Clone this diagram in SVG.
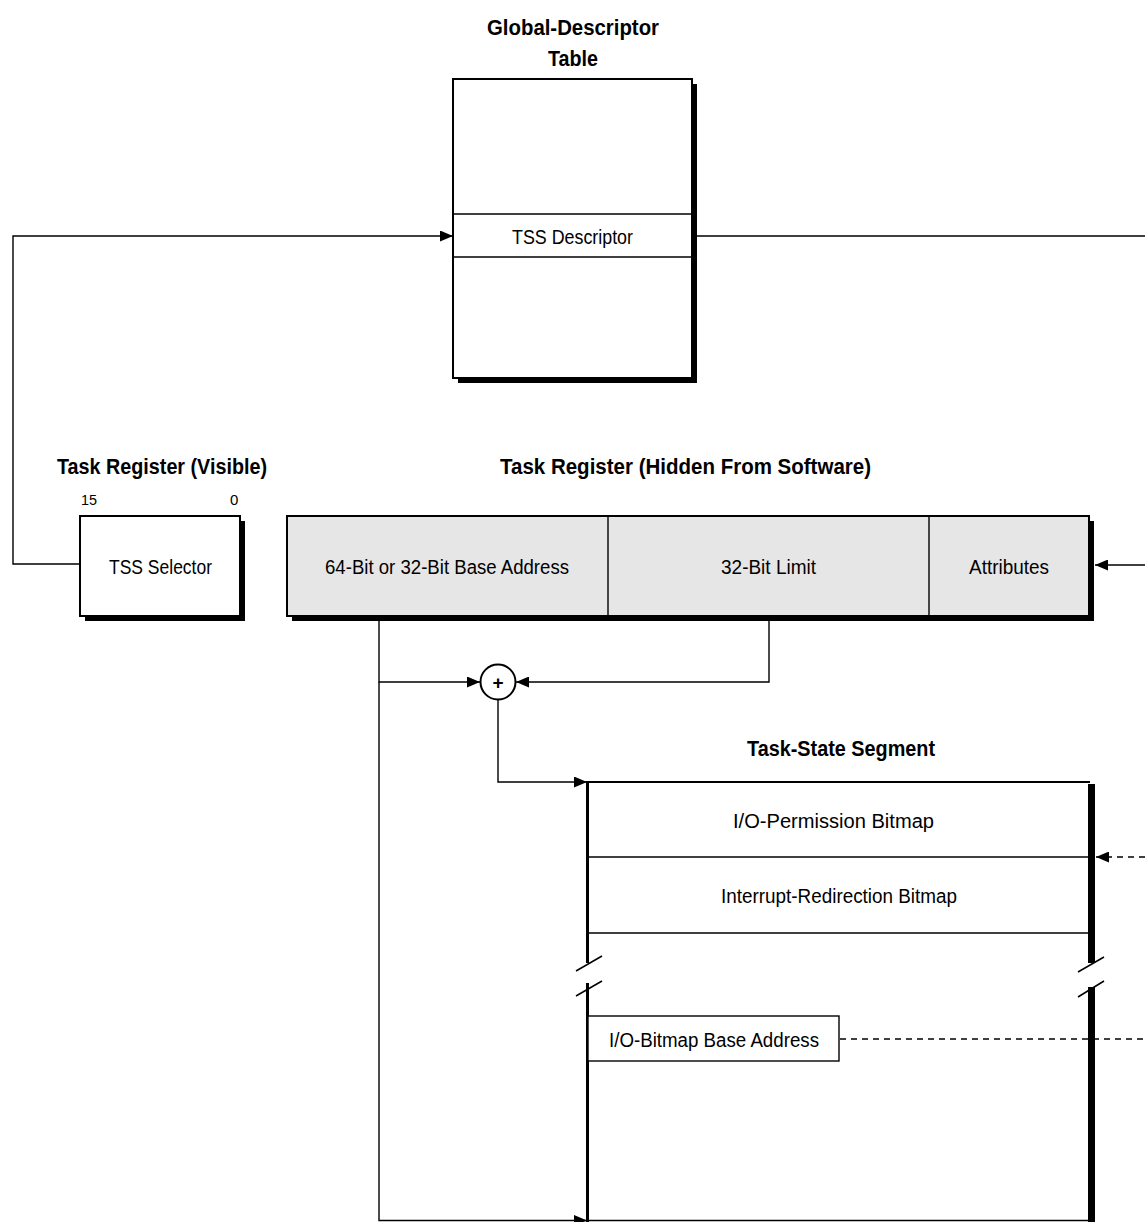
<svg xmlns="http://www.w3.org/2000/svg" width="1145" height="1222" viewBox="0 0 1145 1222">
<style>
text{font-family:"Liberation Sans",Arial,sans-serif;fill:#000}
.t{font-size:22px;font-weight:bold}
.n{font-size:20px}
.s{font-size:15px}
.ln{fill:none;stroke:#000;stroke-width:1.4}
.dl{fill:none;stroke:#000;stroke-width:1.4;stroke-dasharray:6 5}
.bx{fill:#fff;stroke:#000;stroke-width:2}
.gr{fill:#e6e6e6;stroke:#000;stroke-width:2}
.div{stroke:#000;stroke-width:1.4}
</style>
<defs>
<marker id="ah" markerUnits="userSpaceOnUse" markerWidth="13" markerHeight="11" refX="13" refY="5.5" orient="auto">
<path d="M0,0 L13,5.5 L0,11 z" fill="#000"/>
</marker>
</defs>
<rect width="1145" height="1222" fill="#fff"/>

<g id="gdt">
<text class="t" x="487" y="35" textLength="172" lengthAdjust="spacingAndGlyphs">Global-Descriptor</text>
<text class="t" x="548" y="66" textLength="50" lengthAdjust="spacingAndGlyphs">Table</text>
<rect x="458" y="84" width="239" height="299" fill="#000"/>
<rect class="bx" x="453" y="79" width="239" height="299"/>
<line class="div" x1="453" y1="214" x2="692" y2="214"/>
<line class="div" x1="453" y1="257" x2="692" y2="257"/>
<text class="n" x="512" y="244" textLength="121" lengthAdjust="spacingAndGlyphs">TSS Descriptor</text>
</g>

<g id="tr-visible">
<text class="t" x="57" y="474" textLength="210" lengthAdjust="spacingAndGlyphs">Task Register (Visible)</text>
<text class="s" x="81" y="505" textLength="16" lengthAdjust="spacingAndGlyphs">15</text>
<text class="s" x="230" y="505">0</text>
<rect x="85" y="521" width="160" height="100" fill="#000"/>
<rect class="bx" x="80" y="516" width="160" height="100"/>
<text class="n" x="109" y="574" textLength="103" lengthAdjust="spacingAndGlyphs">TSS Selector</text>
</g>

<g id="tr-hidden">
<text class="t" x="500" y="474" textLength="371" lengthAdjust="spacingAndGlyphs">Task Register (Hidden From Software)</text>
<rect x="292" y="521" width="802" height="100" fill="#000"/>
<rect class="gr" x="287" y="516" width="802" height="100"/>
<line class="div" x1="608" y1="516" x2="608" y2="616" stroke-width="2"/>
<line class="div" x1="929" y1="516" x2="929" y2="616" stroke-width="2"/>
<text class="n" x="325" y="574" textLength="244" lengthAdjust="spacingAndGlyphs">64-Bit or 32-Bit Base Address</text>
<text class="n" x="721" y="574" textLength="95" lengthAdjust="spacingAndGlyphs">32-Bit Limit</text>
<text class="n" x="969" y="574" textLength="80" lengthAdjust="spacingAndGlyphs">Attributes</text>
</g>

<g id="adder">
<circle cx="498" cy="682" r="17.5" fill="#fff" stroke="#000" stroke-width="2"/>
<text x="498" y="688.5" font-size="19" font-weight="bold" text-anchor="middle">+</text>
</g>

<g id="tss">
<text class="t" x="747" y="756" textLength="188" lengthAdjust="spacingAndGlyphs">Task-State Segment</text>
<rect x="1088" y="784" width="7" height="179" fill="#000"/>
<rect x="1088" y="987" width="7" height="236" fill="#000"/>
<line x1="586" y1="782" x2="1090" y2="782" stroke="#000" stroke-width="2.2"/>
<line x1="587.5" y1="781" x2="587.5" y2="963" stroke="#000" stroke-width="3"/>
<line x1="587.5" y1="983" x2="587.5" y2="1223" stroke="#000" stroke-width="3"/>
<line x1="586" y1="1220.5" x2="1090" y2="1220.5" stroke="#000" stroke-width="1.6"/>
<line class="div" x1="587" y1="857" x2="1089" y2="857"/>
<line class="div" x1="587" y1="933" x2="1089" y2="933"/>
<text class="n" x="733" y="828" textLength="201" lengthAdjust="spacingAndGlyphs">I/O-Permission Bitmap</text>
<text class="n" x="721" y="903" textLength="236" lengthAdjust="spacingAndGlyphs">Interrupt-Redirection Bitmap</text>
<line x1="576" y1="971" x2="602" y2="956" stroke="#000" stroke-width="1.5"/>
<line x1="576" y1="996" x2="602" y2="981" stroke="#000" stroke-width="1.5"/>
<line x1="1078" y1="972" x2="1104" y2="957" stroke="#000" stroke-width="1.5"/>
<line x1="1078" y1="997" x2="1104" y2="981" stroke="#000" stroke-width="1.5"/>
</g>

<g id="io-base">
<rect x="588" y="1016" width="251" height="45" fill="#fff" stroke="#000" stroke-width="1.4"/>
<text class="n" x="609" y="1047" textLength="210" lengthAdjust="spacingAndGlyphs">I/O-Bitmap Base Address</text>
</g>

<g id="connectors">
<path class="ln" d="M80,564 H13 V236 H453" marker-end="url(#ah)"/>
<path class="ln" d="M697,236 H1147 V565 H1095" marker-end="url(#ah)"/>
<path class="ln" d="M769,621 V682 H516" marker-end="url(#ah)"/>
<path class="ln" d="M379,621 V682 H480" marker-end="url(#ah)"/>
<path class="ln" d="M379,682 V1220.5 H587" marker-end="url(#ah)"/>
<path class="ln" d="M498,700 V782 H587" marker-end="url(#ah)"/>
<path class="dl" d="M1145,857 H1096" marker-end="url(#ah)"/>
<path class="dl" d="M840,1039 H1145"/>
</g>
</svg>
